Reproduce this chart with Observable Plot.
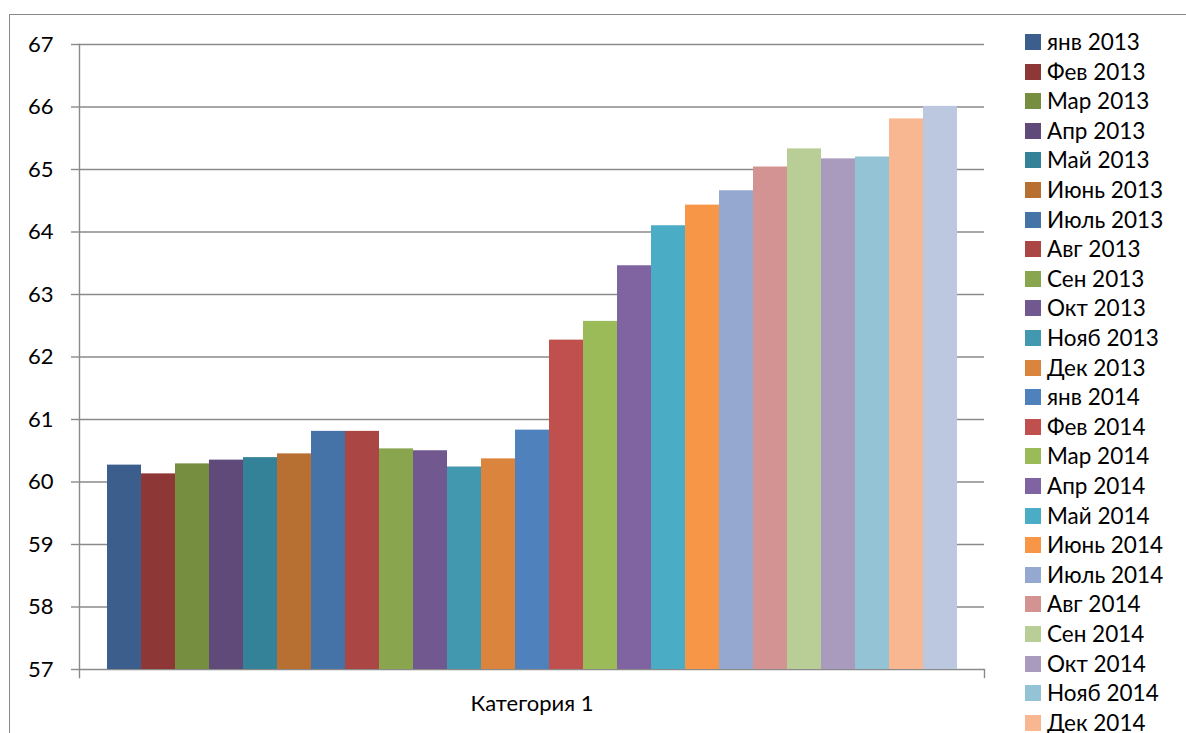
<!DOCTYPE html>
<html>
<head>
<meta charset="utf-8">
<script src="https://cdn.jsdelivr.net/npm/d3@7"></script>
<script src="https://cdn.jsdelivr.net/npm/@observablehq/plot@0.6"></script>
<style>
  html, body { margin: 0; padding: 0; background: #fff; overflow: hidden; }
  body { width: 1186px; height: 733px; position: relative; font-family: Lato, "Noto Sans", sans-serif; }
  #border { position: absolute; left: 9px; top: 14px; width: 1400px; height: 900px; border: 1.5px solid #8a8a8a; box-sizing: border-box; }
  #chart { position: absolute; left: 0; top: 0; }
  #legend { position: absolute; left: 1025px; top: 0; }
  .item { position: absolute; left: 0; height: 20px; white-space: nowrap; font-size: 22.5px; color: #000; line-height: 20px; }
  .sw { position: absolute; left: 0; top: 2px; width: 16px; height: 16px; }
  .lb { position: absolute; left: 22px; top: 0; }
</style>
</head>
<body>
<div id="border"></div>
<div id="chart"></div>
<div id="legend"></div>
<script>
const category = ["Категория 1"];
const months = [
  "янв 2013", "Фев 2013", "Мар 2013", "Апр 2013", "Май 2013", "Июнь 2013",
  "Июль 2013", "Авг 2013", "Сен 2013", "Окт 2013", "Нояб 2013", "Дек 2013",
  "янв 2014", "Фев 2014", "Мар 2014", "Апр 2014", "Май 2014", "Июнь 2014",
  "Июль 2014", "Авг 2014", "Сен 2014", "Окт 2014", "Нояб 2014", "Дек 2014",
  "янв 2015"
];
const values = [
  60.27, 60.13, 60.29, 60.35, 60.39, 60.45,
  60.81, 60.81, 60.53, 60.50, 60.24, 60.37,
  60.83, 62.27, 62.57, 63.46, 64.10, 64.43,
  64.66, 65.04, 65.33, 65.17, 65.20, 65.81,
  66.01
];
const colors = [
  "#3b5e8c", "#8d3836", "#758e40", "#5f4a7a", "#338298", "#b87032",
  "#4572a7", "#aa4643", "#89a54e", "#71588f", "#4198af", "#db843d",
  "#4f81bd", "#c0504d", "#9bbb59", "#8064a2", "#4bacc6", "#f79646",
  "#95a9d0", "#d29392", "#b9cd96", "#a99bbd", "#93c3d5", "#f8b790",
  "#bcc7e0"
];
const yTicks = [57, 58, 59, 60, 61, 62, 63, 64, 65, 66, 67];
// legend entries that fit in the visible window (the last one is cut off in the original)
const legendCount = 24;

const data = months.map((m, i) => ({month: m, value: values[i], category: category[0]}));
const grid = "#8a8a8a";

const chart = Plot.plot({
  width: 1186,
  height: 733,
  marginLeft: 79,
  marginRight: 202,
  marginTop: 44,
  marginBottom: 64,
  style: {fontFamily: "Lato, 'Noto Sans', sans-serif", fontSize: "22px", color: "#000", background: "transparent"},
  x: {type: "band", domain: months, range: [104, 960], padding: 0, axis: null},
  y: {domain: [57, 67], axis: null},
  color: {domain: months, range: colors},
  marks: [
    Plot.ruleY(yTicks, {stroke: grid, strokeWidth: 1.4}),
    Plot.axisY({ticks: yTicks, tickSize: 8, tickPadding: 18, stroke: grid, strokeWidth: 1.4, tickFormat: d => String(d), fill: "#000", fontSize: 22, label: null}),
    Plot.frame({anchor: "left", insetBottom: -8, stroke: grid, strokeWidth: 1.4}),
    Plot.frame({anchor: "right", insetTop: 625, insetBottom: -8, stroke: grid, strokeWidth: 1.4}),
    Plot.barY(data, {x: "month", y1: 57, y2: "value", fill: "month"}),
    Plot.text(category, {frameAnchor: "bottom", dy: 34, lineAnchor: "middle", fill: "#000", fontSize: 22})
  ]
});
document.getElementById("chart").appendChild(chart);

const legend = document.getElementById("legend");
months.slice(0, legendCount).forEach((m, i) => {
  const item = document.createElement("div");
  item.className = "item";
  item.style.top = (32 + i * 29.6) + "px";
  const sw = document.createElement("div");
  sw.className = "sw";
  sw.style.background = colors[i];
  const lb = document.createElement("div");
  lb.className = "lb";
  lb.textContent = m;
  item.appendChild(sw);
  item.appendChild(lb);
  legend.appendChild(item);
});
</script>
</body>
</html>
